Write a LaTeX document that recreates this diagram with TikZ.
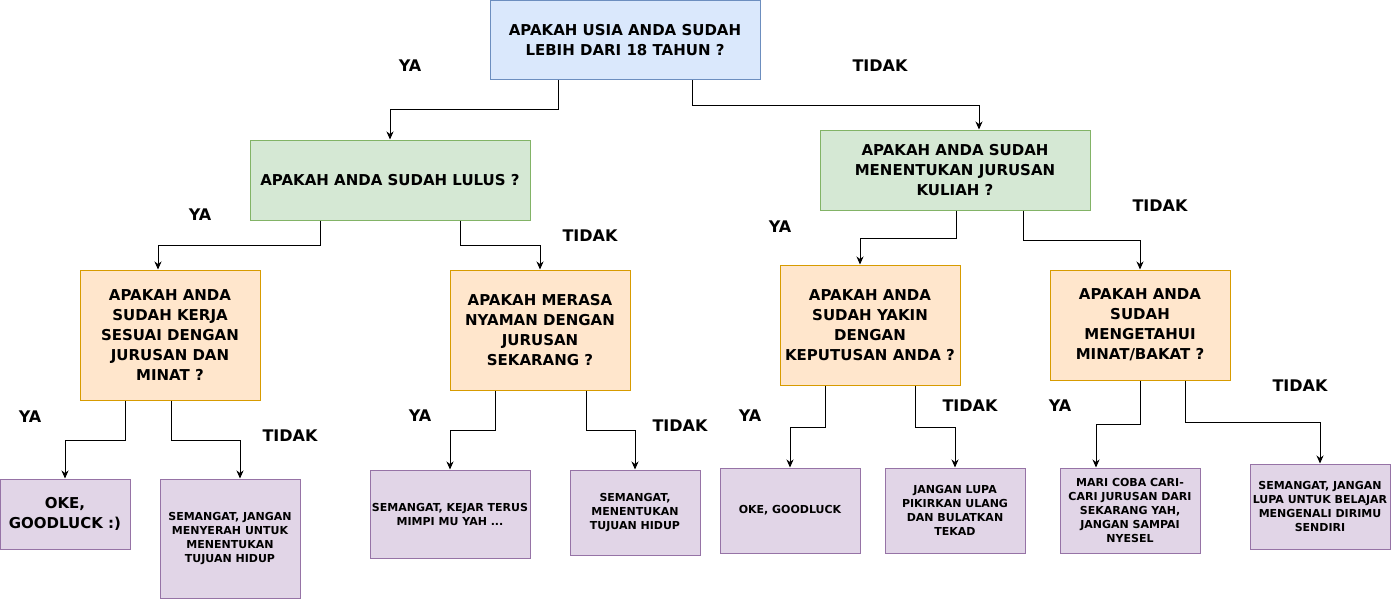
\documentclass[tikz,border=0pt]{standalone}
\usepackage{fontspec}
\setmainfont{DejaVu Sans}
\usetikzlibrary{arrows.meta}
\definecolor{bfill}{HTML}{DAE8FC}\definecolor{bline}{HTML}{6C8EBF}
\definecolor{gfill}{HTML}{D5E8D4}\definecolor{gline}{HTML}{82B366}
\definecolor{ofill}{HTML}{FFE6CC}\definecolor{oline}{HTML}{D79B00}
\definecolor{pfill}{HTML}{E1D5E7}\definecolor{pline}{HTML}{9673A6}
\tikzset{
  box/.style={draw, line width=1pt, inner sep=0pt, align=center,
    font=\fontsize{15}{20}\selectfont\bfseries},
  bluebox/.style={box, fill=bfill, draw=bline},
  greenbox/.style={box, fill=gfill, draw=gline},
  orangebox/.style={box, fill=ofill, draw=oline},
  purplebox/.style={box, fill=pfill, draw=pline, font=\fontsize{11}{14}\selectfont\bfseries},
  arr/.style={draw=black, line width=1pt, -{Stealth[length=8pt,width=7pt,inset=2.5pt]}},
  lbl/.style={font=\fontsize{16}{19}\selectfont\bfseries, inner sep=0pt}
}
\begin{document}
\begin{tikzpicture}[x=1pt,y=-1pt]
\useasboundingbox (0,0) rectangle (1392,600);
% question boxes
\node[bluebox, minimum width=270pt, minimum height=79pt] (top) at (625,40) {APAKAH USIA ANDA SUDAH\\LEBIH DARI 18 TAHUN ?};
\node[greenbox, minimum width=280pt, minimum height=80pt] (g1) at (390,180) {APAKAH ANDA SUDAH LULUS ?};
\node[greenbox, minimum width=270pt, minimum height=80pt] (g2) at (955,170) {APAKAH ANDA SUDAH\\MENENTUKAN JURUSAN\\KULIAH ?};
\node[orangebox, minimum width=180pt, minimum height=130pt] (o1) at (170,335) {APAKAH ANDA\\SUDAH KERJA\\SESUAI DENGAN\\JURUSAN DAN\\MINAT ?};
\node[orangebox, minimum width=180pt, minimum height=120pt] (o2) at (540,330) {APAKAH MERASA\\NYAMAN DENGAN\\JURUSAN\\SEKARANG ?};
\node[orangebox, minimum width=180pt, minimum height=120pt] (o3) at (870,325) {APAKAH ANDA\\SUDAH YAKIN\\DENGAN\\KEPUTUSAN ANDA ?};
\node[orangebox, minimum width=180pt, minimum height=110pt] (o4) at (1140,325) {APAKAH ANDA\\SUDAH\\MENGETAHUI\\MINAT/BAKAT ?};
% answer boxes
\node[purplebox, minimum width=130pt, minimum height=70pt, font=\fontsize{15}{19.5}\selectfont\bfseries] (p1) at (65,514) {OKE,\\GOODLUCK :)};
\node[purplebox, minimum width=140pt, minimum height=119pt] (p2) at (230,538.5) {SEMANGAT, JANGAN\\MENYERAH UNTUK\\MENENTUKAN\\TUJUAN HIDUP};
\node[purplebox, minimum width=160pt, minimum height=88pt] (p3) at (450,514) {SEMANGAT, KEJAR TERUS\\MIMPI MU YAH ...};
\node[purplebox, minimum width=130pt, minimum height=85pt] (p4) at (635,512.5) {SEMANGAT,\\MENENTUKAN\\TUJUAN HIDUP};
\node[purplebox, minimum width=140pt, minimum height=85pt] (p5) at (790,510.5) {OKE, GOODLUCK};
\node[purplebox, minimum width=140pt, minimum height=85pt] (p6) at (955,510.5) {JANGAN LUPA\\PIKIRKAN ULANG\\DAN BULATKAN\\TEKAD};
\node[purplebox, minimum width=140pt, minimum height=85pt] (p7) at (1130,510.5) {MARI COBA CARI-\\CARI JURUSAN DARI\\SEKARANG YAH,\\JANGAN SAMPAI\\NYESEL};
\node[purplebox, minimum width=140pt, minimum height=85pt] (p8) at (1320,506.5) {SEMANGAT, JANGAN\\LUPA UNTUK BELAJAR\\MENGENALI DIRIMU\\SENDIRI};
% connectors
\draw[arr] ([xshift=-67pt]top.south) -- ++(0,29) -| (g1.north);
\draw[arr] ([xshift=67pt]top.south) -- ++(0,25) -| ([xshift=24pt]g2.north);
\draw[arr] ([xshift=-70pt]g1.south) -- ++(0,25) -| ([xshift=-12pt]o1.north);
\draw[arr] ([xshift=70pt]g1.south) -- ++(0,25) -| (o2.north);
\draw[arr] ([xshift=1pt]g2.south) -- ++(0,28) -| ([xshift=-10pt]o3.north);
\draw[arr] ([xshift=68pt]g2.south) -- ++(0,30) -| (o4.north);
\draw[arr] ([xshift=-45pt]o1.south) -- ++(0,40) -| (p1.north);
\draw[arr] ([xshift=1pt]o1.south) -- ++(0,40) -| ([xshift=10pt]p2.north);
\draw[arr] ([xshift=-45pt]o2.south) -- ++(0,40) -| (p3.north);
\draw[arr] ([xshift=46pt]o2.south) -- ++(0,40) -| (p4.north);
\draw[arr] ([xshift=-45pt]o3.south) -- ++(0,42) -| (p5.north);
\draw[arr] ([xshift=45pt]o3.south) -- ++(0,42) -| (p6.north);
\draw[arr] (o4.south) -- ++(0,44) -| ([xshift=-34pt]p7.north);
\draw[arr] ([xshift=45pt]o4.south) -- ++(0,42) -| (p8.north);
% labels
\node[lbl] (l1) at (410,66) {YA};
\node[lbl] (l2) at (880,66) {TIDAK};
\node[lbl] (l3) at (200,215) {YA};
\node[lbl] (l4) at (590,236) {TIDAK};
\node[lbl] (l5) at (780,227) {YA};
\node[lbl] (l6) at (1160,206) {TIDAK};
\node[lbl] (l7) at (30,417) {YA};
\node[lbl] (l8) at (290,436) {TIDAK};
\node[lbl] (l9) at (420,416) {YA};
\node[lbl] (l10) at (680,426) {TIDAK};
\node[lbl] (l11) at (750,416) {YA};
\node[lbl] (l12) at (970,406) {TIDAK};
\node[lbl] (l13) at (1060,406) {YA};
\node[lbl] (l14) at (1300,386) {TIDAK};
\end{tikzpicture}
\end{document}
